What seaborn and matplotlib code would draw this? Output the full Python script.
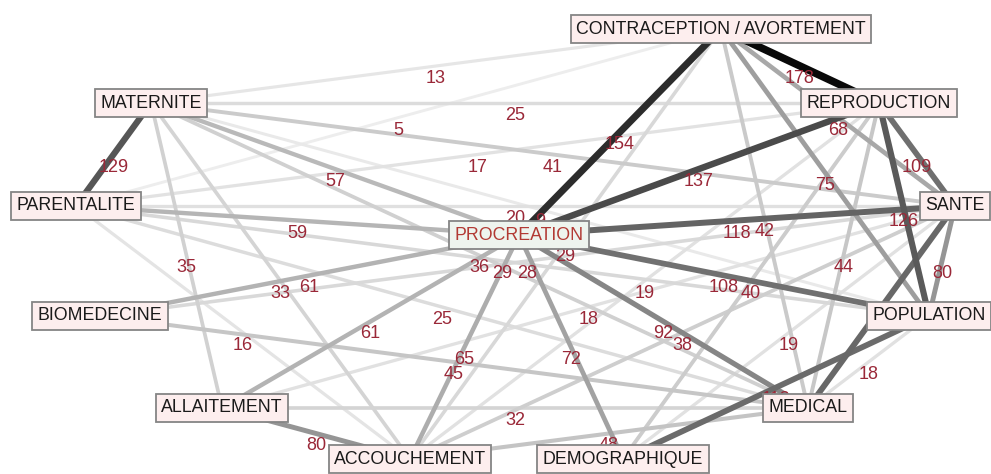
import numpy as np
import pandas as pd
import matplotlib
matplotlib.use("Agg")
import matplotlib.pyplot as plt
import seaborn as sns

# nodes and their layout position (pixel space of the 991x474 canvas)
nodes = ["CONTRACEPTION / AVORTEMENT", "MATERNITE", "REPRODUCTION", "PARENTALITE",
         "SANTE", "PROCREATION", "BIOMEDECINE", "POPULATION", "ALLAITEMENT",
         "MEDICAL", "ACCOUCHEMENT", "DEMOGRAPHIQUE"]
node_x = [721, 151, 879, 76, 955, 519, 100, 929, 222, 808, 410, 623]
node_y = [29, 103, 103, 206, 206, 235, 316, 316, 408, 408, 459, 459]

# edges (co-occurrence counts)
edge_from = ["MATERNITE", "CONTRACEPTION / AVORTEMENT", "CONTRACEPTION / AVORTEMENT",
             "MATERNITE", "MATERNITE", "PARENTALITE", "PARENTALITE", "MATERNITE",
             "MATERNITE", "REPRODUCTION", "REPRODUCTION", "CONTRACEPTION / AVORTEMENT",
             "CONTRACEPTION / AVORTEMENT", "PARENTALITE", "PARENTALITE", "REPRODUCTION",
             "SANTE", "CONTRACEPTION / AVORTEMENT", "SANTE", "REPRODUCTION",
             "MATERNITE", "MATERNITE", "BIOMEDECINE", "PARENTALITE", "ALLAITEMENT",
             "PARENTALITE", "MATERNITE", "PARENTALITE", "BIOMEDECINE", "ACCOUCHEMENT",
             "ACCOUCHEMENT", "ALLAITEMENT", "PROCREATION", "DEMOGRAPHIQUE", "PROCREATION",
             "ACCOUCHEMENT", "PROCREATION", "PROCREATION", "BIOMEDECINE", "ALLAITEMENT",
             "ALLAITEMENT", "DEMOGRAPHIQUE", "MEDICAL", "ACCOUCHEMENT", "DEMOGRAPHIQUE",
             "MATERNITE", "SANTE"]
edge_to = ["PARENTALITE", "REPRODUCTION", "PROCREATION",
           "CONTRACEPTION / AVORTEMENT", "REPRODUCTION", "CONTRACEPTION / AVORTEMENT",
           "REPRODUCTION", "SANTE",
           "PROCREATION", "PROCREATION", "SANTE", "SANTE",
           "POPULATION", "SANTE", "PROCREATION", "POPULATION",
           "PROCREATION", "MEDICAL", "POPULATION", "MEDICAL",
           "ALLAITEMENT", "ACCOUCHEMENT", "PROCREATION", "ACCOUCHEMENT", "PROCREATION",
           "MEDICAL", "MEDICAL", "POPULATION", "SANTE", "CONTRACEPTION / AVORTEMENT",
           "REPRODUCTION", "SANTE", "POPULATION", "REPRODUCTION", "MEDICAL",
           "SANTE", "DEMOGRAPHIQUE", "ACCOUCHEMENT", "MEDICAL", "MEDICAL",
           "ACCOUCHEMENT", "SANTE", "POPULATION", "MEDICAL", "POPULATION",
           "POPULATION", "MEDICAL"]
edge_weight = [129, 178, 154, 13, 25, 5, 17, 41,
               57, 137, 109, 68, 75, 20, 59, 126,
               118, 42, 80, 44, 35, 33, 61, 16, 61,
               25, 36, 29, 28, 29, 19, 18, 108, 40, 92,
               38, 72, 65, 45, 32, 80, 19, 18, 48, 112,
               9, 115]

pos = {n: (x, y) for n, x, y in zip(nodes, node_x, node_y)}

rows = []
for i, (a, b, w) in enumerate(zip(edge_from, edge_to, edge_weight)):
    rows.append({"edge": i, "x": pos[a][0], "y": pos[a][1], "weight": w})
    rows.append({"edge": i, "x": pos[b][0], "y": pos[b][1], "weight": w})
edges_df = pd.DataFrame(rows)

sns.set_theme(style="white")
plt.rcParams["font.family"] = ["Liberation Sans", "DejaVu Sans"]

fig = plt.figure(figsize=(9.91, 4.74), dpi=100)
ax = fig.add_axes([0, 0, 1, 1])

sns.lineplot(data=edges_df, x="x", y="y", units="edge", estimator=None, sort=False,
             hue="weight", palette="Greys", hue_norm=(-25, 185),
             size="weight", sizes=(2.0, 5.5), size_norm=(0, 180),
             legend=False, ax=ax)

# edge labels at the middle of each edge (some end up under the node boxes)
for a, b, w in zip(edge_from, edge_to, edge_weight):
    mx = (pos[a][0] + pos[b][0]) / 2
    my = (pos[a][1] + pos[b][1]) / 2
    ax.annotate(str(w), xy=(mx, my), xytext=(0, -9), textcoords="offset points",
                ha="center", va="center", fontsize=13, color="#9a2838", zorder=3)

# node boxes
for n in nodes:
    if n == "PROCREATION":
        fc, tc = "#eef4ee", "#b23a34"
    else:
        fc, tc = "#fdeeee", "#1a1a1a"
    ax.text(pos[n][0], pos[n][1], n, ha="center", va="center", fontsize=12.8,
            color=tc, zorder=5,
            bbox=dict(boxstyle="square,pad=0.3", fc=fc, ec="#858585", lw=1.3))

ax.set_xlim(0, 991)
ax.set_ylim(474, 0)
ax.axis("off")

fig.savefig("out.png", dpi=100)
